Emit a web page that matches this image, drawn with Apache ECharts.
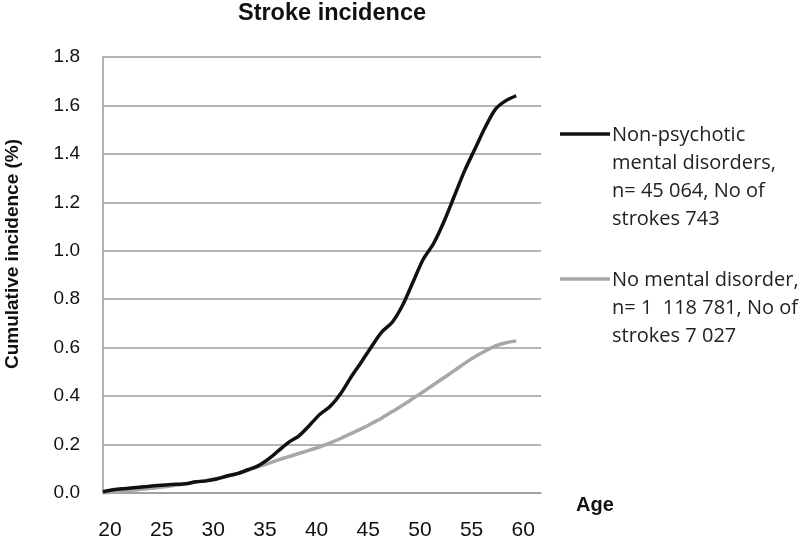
<!DOCTYPE html>
<html>
<head>
<meta charset="utf-8">
<script src="https://cdn.jsdelivr.net/npm/echarts@6/dist/echarts.min.js"></script>
<style>html,body{margin:0;padding:0;background:#fff}#c{width:800px;height:541px}</style>
</head>
<body>
<div id="c"></div>
<script>
const titleText = 'Stroke incidence';
const yAxisTitle = 'Cumulative incidence (%)';
const xAxisTitle = 'Age';
const ages = [20,21,22,23,24,25,26,27,28,29,30,31,32,33,34,35,36,37,38,39,40,41,42,43,44,45,46,47,48,49,50,51,52,53,54,55,56,57,58,59,60];
const nonPsychotic = [0.005,0.013,0.018,0.022,0.026,0.030,0.033,0.036,0.038,0.046,0.050,0.058,0.070,0.080,0.096,0.112,0.140,0.175,0.210,0.237,0.280,0.325,0.358,0.410,0.478,0.540,0.605,0.665,0.705,0.775,0.870,0.965,1.030,1.120,1.225,1.330,1.420,1.510,1.585,1.620,1.640];
const noMental = [0.000,0.004,0.008,0.012,0.016,0.021,0.026,0.032,0.038,0.045,0.052,0.060,0.069,0.080,0.093,0.108,0.122,0.137,0.150,0.164,0.177,0.191,0.207,0.225,0.245,0.265,0.287,0.310,0.336,0.362,0.390,0.418,0.447,0.476,0.505,0.535,0.562,0.586,0.607,0.620,0.628];
const legend1Lines = ['Non-psychotic', 'mental disorders,', 'n= 45 064, No of', 'strokes 743'];
const legend2Lines = ['No mental disorder,', 'n= 1  118 781, No of', 'strokes 7 027'];
const seriesNames = ['Non-psychotic mental disorders', 'No mental disorder'];
const seriesColors = ['#111111', '#a8a8a8'];

const chart = echarts.init(document.getElementById('c'));
const pair = (vals) => ages.map((a, i) => [a, vals[i]]);
const grid = {left: 103, top: 57, right: 259, bottom: 46};

function legendGraphic(lines, color, y0) {
  const els = [{
    type: 'line',
    shape: {x1: 560, y1: y0, x2: 610, y2: y0},
    style: {stroke: color, lineWidth: 3.5}
  }];
  lines.forEach((t, i) => {
    els.push({
      type: 'text',
      x: 612, y: y0 + 1 + i * 28,
      style: {text: t, fill: '#222', font: '20px "Open Sans", sans-serif', textVerticalAlign: 'middle', textAlign: 'left'}
    });
  });
  return els;
}

chart.setOption({
  animation: false,
  title: {
    text: titleText, left: 327, top: -3, textAlign: 'center',
    textStyle: {fontFamily: 'Liberation Sans, Arial, sans-serif', fontWeight: 'bold', fontSize: 23.5, color: '#111'}
  },
  grid: grid,
  xAxis: {
    type: 'value', min: 20, max: 62.4, interval: 5,
    axisLine: {show: true, lineStyle: {color: '#9a9a9a', width: 1.5}},
    axisTick: {show: false},
    splitLine: {show: false},
    axisLabel: {
      margin: 27, fontSize: 21, color: '#111', fontFamily: 'Liberation Sans, Arial, sans-serif',
      padding: [0, 0, 0, 14], showMaxLabel: false,
      formatter: v => (v <= 60 ? String(v) : '')
    }
  },
  yAxis: {
    type: 'value', min: 0, max: 1.8, interval: 0.2,
    axisLine: {show: true, lineStyle: {color: '#9a9a9a', width: 1.5}},
    axisTick: {show: false},
    splitLine: {show: true, lineStyle: {color: '#9a9a9a', width: 1.5}},
    axisLabel: {
      margin: 23, fontSize: 19, color: '#111', fontFamily: 'Liberation Sans, Arial, sans-serif',
      formatter: v => v.toFixed(1)
    }
  },
  series: [
    {name: seriesNames[1], type: 'line', data: pair(noMental), showSymbol: false, smooth: 0.3,
     lineStyle: {color: seriesColors[1], width: 3.5}, itemStyle: {color: seriesColors[1]}},
    {name: seriesNames[0], type: 'line', data: pair(nonPsychotic), showSymbol: false, smooth: 0.3,
     lineStyle: {color: seriesColors[0], width: 3.5}, itemStyle: {color: seriesColors[0]}}
  ],
  graphic: [
    {type: 'text', x: 13, y: 254, rotation: Math.PI / 2,
     style: {text: yAxisTitle, fill: '#111', font: 'bold 19px "Liberation Sans", Arial, sans-serif', textAlign: 'center', textVerticalAlign: 'middle'}},
    {type: 'text', x: 576, y: 505,
     style: {text: xAxisTitle, fill: '#111', font: 'bold 20px "Liberation Sans", Arial, sans-serif', textVerticalAlign: 'middle'}},
    ...legendGraphic(legend1Lines, seriesColors[0], 134),
    ...legendGraphic(legend2Lines, seriesColors[1], 279)
  ]
});
</script>
</body>
</html>
